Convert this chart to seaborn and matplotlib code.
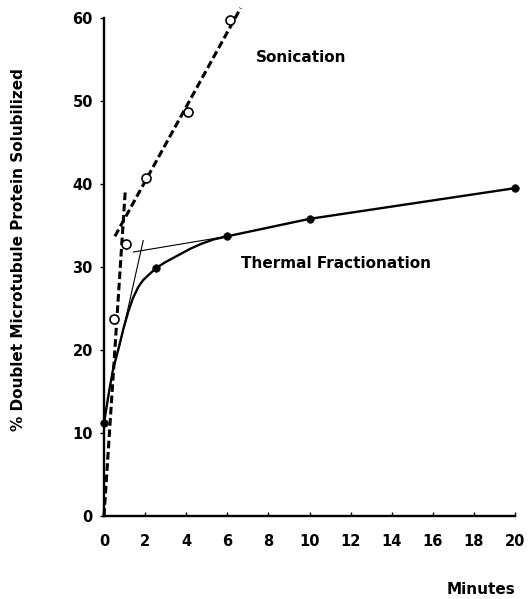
import matplotlib
matplotlib.use("Agg")
import matplotlib.pyplot as plt
import seaborn as sns
import numpy as np
import pandas as pd

# ---- data ----
son_x = [0.5, 1.05, 2.05, 4.1, 6.15]
son_y = [23.7, 32.8, 40.7, 48.7, 59.8]

therm_x = [0.0, 2.55, 6.0, 10.0, 20.0]
therm_y = [11.2, 29.9, 33.7, 35.8, 39.5]

# dashed sonication fit lines
son_fast_x = [0.0, 1.03]
son_fast_y = [0.0, 39.0]
son_slow_x = [0.53, 6.65]
son_slow_y = [33.7, 61.2]

# solid thermal fractionation curve (traced)
curve_x = [0.0, 0.26, 0.45, 0.69, 0.95, 1.18, 1.4, 1.67, 1.9, 2.15, 2.55, 3.0, 3.6, 4.2, 4.74, 5.3, 6.0, 10.0, 20.0]
curve_y = [11.2, 15.2, 17.8, 20.0, 22.6, 24.6, 26.2, 27.6, 28.4, 29.0, 29.9, 30.6, 31.4, 32.2, 32.8, 33.3, 33.7, 35.8, 39.5]

# thin tangent lines
tan1_x = [0.75, 1.91]
tan1_y = [20.4, 33.2]
tan2_x = [1.42, 6.0]
tan2_y = [31.8, 33.7]

xticks = [0, 2, 4, 6, 8, 10, 12, 14, 16, 18, 20]
yticks = [0, 10, 20, 30, 40, 50, 60]

sns.set_theme(style="white")
plt.rcParams['font.family'] = ['DejaVu Sans']
plt.rcParams['font.weight'] = 'bold'
plt.rcParams['text.color'] = 'black'
plt.rcParams['axes.labelcolor'] = 'black'

fig = plt.figure(figsize=(5.29, 5.99), dpi=100)
ax = fig.add_axes([104/529, 1-516/599, (515-104)/529, (516-18)/599])

sns.lineplot(x=son_fast_x, y=son_fast_y, ax=ax, color='black', linewidth=2.2,
             linestyle=(0, (2.5, 1.2)), clip_on=False)
sns.lineplot(x=son_slow_x, y=son_slow_y, ax=ax, color='black', linewidth=2.2,
             linestyle=(0, (2.5, 1.2)), clip_on=False)
sns.lineplot(x=curve_x, y=curve_y, ax=ax, color='black', linewidth=1.7, clip_on=False)
sns.lineplot(x=tan1_x, y=tan1_y, ax=ax, color='black', linewidth=0.8)
sns.lineplot(x=tan2_x, y=tan2_y, ax=ax, color='black', linewidth=0.8)

sns.scatterplot(x=son_x, y=son_y, ax=ax, marker='o', s=42, facecolor='white',
                edgecolor='black', linewidth=1.2, zorder=5, clip_on=False)
sns.scatterplot(x=therm_x, y=therm_y, ax=ax, marker='o', s=30, color='black',
                edgecolor='black', zorder=5, clip_on=False)

ax.set_xlim(0, 20)
ax.set_ylim(0, 60)
ax.set_xticks(xticks)
ax.set_yticks(yticks)
ax.set_xticklabels([str(t) for t in xticks], fontsize=10.5, fontweight='bold')
ax.set_yticklabels([str(t) for t in yticks], fontsize=10.5, fontweight='bold')

for s in ['top', 'right']:
    ax.spines[s].set_visible(False)
for s in ['left', 'bottom']:
    ax.spines[s].set_color('black')
    ax.spines[s].set_linewidth(1.7)

ax.tick_params(axis='x', direction='in', length=3, width=1, pad=13, colors='black', bottom=True)
ax.tick_params(axis='y', direction='out', length=3, width=1, pad=5, colors='black', left=True)

ax.set_ylabel('% Doublet Microtubule Protein Solubilized', fontsize=11, fontweight='bold', color='black')
ax.yaxis.set_label_coords(-0.19, 0.535)

ax.text(9.6, 55.3, 'Sonication', fontsize=11, fontweight='bold', ha='center', va='center', color='black')
ax.text(11.3, 30.4, 'Thermal Fractionation', fontsize=11, fontweight='bold', ha='center', va='center', color='black')
fig.text(481/529, 1-589/599, 'Minutes', fontsize=11, fontweight='bold', ha='center', va='center', color='black')

fig.savefig('out.png', dpi=100, facecolor='white')
